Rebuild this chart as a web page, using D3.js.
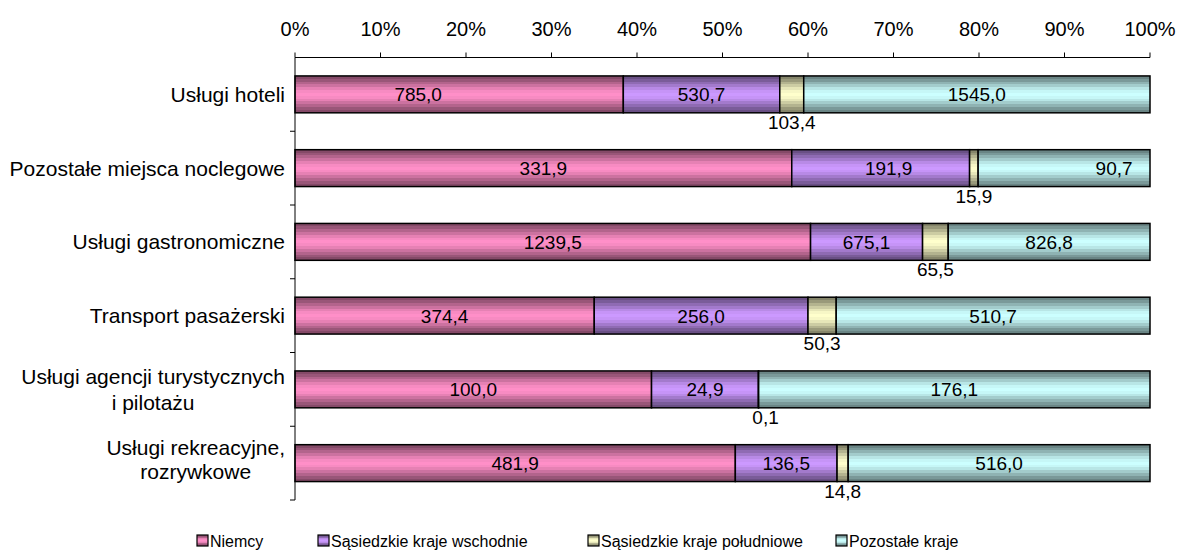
<!DOCTYPE html>
<html>
<head>
<meta charset="utf-8">
<script src="https://cdn.jsdelivr.net/npm/d3@7"></script>
<style>
  body { margin: 0; background: #fff; }
  text { font-family: "Liberation Sans", Arial, sans-serif; fill: #000; }
</style>
</head>
<body>
<svg id="chart" width="1180" height="551"></svg>
<script>
// categories (top to bottom), each label split into lines
const categories = [
    ["Usługi hoteli"],
    ["Pozostałe miejsca noclegowe"],
    ["Usługi gastronomiczne"],
    ["Transport pasażerski"],
    ["Usługi agencji turystycznych", "i pilotażu"],
    ["Usługi rekreacyjne,", "rozrywkowe"]
]
const seriesNames = ["Niemcy", "Sąsiedzkie kraje wschodnie", "Sąsiedzkie kraje południowe", "Pozostałe kraje"]

// bar shares in %
const shareNiemcy = [38.4, 58.1, 60.3, 35.0, 41.7, 51.5]
const shareWschod = [18.3, 20.8, 13.1, 25.0, 12.5, 11.9]
const sharePoludnie = [2.8, 1.0, 3.0, 3.3, 0.03, 1.3]
const sharePozostale = [40.5, 20.1, 23.6, 36.7, 45.77, 35.3]

// data labels
const valNiemcy = [785.0, 331.9, 1239.5, 374.4, 100.0, 481.9]
const valWschod = [530.7, 191.9, 675.1, 256.0, 24.9, 136.5]
const valPoludnie = [103.4, 15.9, 65.5, 50.3, 0.1, 14.8]
const valPozostale = [1545.0, 90.7, 826.8, 510.7, 176.1, 516.0]

const xTicks = [0, 10, 20, 30, 40, 50, 60, 70, 80, 90, 100]

const shares = [shareNiemcy, shareWschod, sharePoludnie, sharePozostale]
const values = [valNiemcy, valWschod, valPoludnie, valPozostale]
const baseColors = ["#ff8fc8", "#cc99ff", "#ffffcc", "#ccffff"]

const table = categories.map((c, i) => {
    let row = {idx: i}
    seriesNames.forEach((s, k) => { row[s] = shares[k][i] })
    return row
})

const plotLeft = 295, plotRight = 1150, plotTop = 57.5, plotBottom = 500

const svg = d3.select('#chart')
const x = d3.scaleLinear().domain([0, 100]).range([plotLeft, plotRight])
const y = d3.scaleBand().domain(d3.range(categories.length)).range([plotTop, plotBottom])
    .paddingInner(0.5).paddingOuter(0.25)

const fmt = d3.formatLocale({decimal: ",", thousands: " ", grouping: [3], currency: ["", ""]}).format(".1f")

// gradients, dark at top and bottom, light in the middle
const defs = svg.append("defs")
const bands = [0.52, 0.6, 0.7, 0.8, 0.9, 0.97, 1, 0.97, 0.9, 0.8, 0.7, 0.6, 0.52]
baseColors.forEach((c, k) => {
    const g = defs.append("linearGradient").attr("id", "grad" + k)
        .attr("x1", 0).attr("y1", 0).attr("x2", 0).attr("y2", 1)
    const n = bands.length
    bands.forEach((f, j) => {
        const col = d3.interpolateRgb("#000", c)(f)
        g.append("stop").attr("offset", (j / n)).attr("stop-color", col)
        g.append("stop").attr("offset", ((j + 1) / n)).attr("stop-color", col)
    })
})

const stacked = d3.stack().keys(seriesNames)(table)

// bars
stacked.forEach((layer, k) => {
    svg.append("g").selectAll("rect")
        .data(layer)
        .enter().append("rect")
        .attr("x", d => x(d[0]))
        .attr("y", d => y(d.data.idx))
        .attr("width", d => x(d[1]) - x(d[0]))
        .attr("height", y.bandwidth())
        .attr("fill", "url(#grad" + k + ")")
        .attr("stroke", "#000")
        .attr("stroke-width", 1.5)
})

// axes
const topAxis = svg.append("g")
topAxis.append("line").attr("x1", plotLeft).attr("x2", plotRight).attr("y1", plotTop).attr("y2", plotTop)
    .attr("stroke", "#000")
xTicks.forEach(t => {
    topAxis.append("line").attr("x1", x(t)).attr("x2", x(t)).attr("y1", plotTop - 5).attr("y2", plotTop)
        .attr("stroke", "#000")
    topAxis.append("text").attr("x", x(t)).attr("y", 36).attr("text-anchor", "middle")
        .attr("font-size", 20).text(t + "%")
})

const leftAxis = svg.append("g")
leftAxis.append("line").attr("x1", plotLeft).attr("x2", plotLeft).attr("y1", plotTop).attr("y2", plotBottom)
    .attr("stroke", "#000")
d3.range(1, categories.length + 1).forEach(i => {
    const yy = plotTop + i * y.step()
    leftAxis.append("line").attr("x1", plotLeft - 5).attr("x2", plotLeft).attr("y1", yy).attr("y2", yy)
        .attr("stroke", "#000")
})

// category labels (multi-line ones centred as a block, right edge at 285)
const catSize = 21
categories.forEach((lines, i) => {
    const cy = y(i) + y.bandwidth() / 2
    if (lines.length === 1) {
        svg.append("text").attr("font-size", catSize).attr("text-anchor", "end")
            .attr("x", 285).attr("y", cy + 7.5).text(lines[0])
        return
    }
    const gap = i === 4 ? 26 : 24
    const g = svg.append("g")
    const items = lines.map(l => g.append("text").attr("font-size", catSize).attr("text-anchor", "middle").text(l))
    const w = d3.max(items, t => t.node().getComputedTextLength())
    const y0 = cy + 7.5 - gap * (lines.length - 1) / 2 - (i === 5 ? 4 : 0)
    items.forEach((t, j) => t.attr("x", 285 - w / 2).attr("y", y0 + j * gap))
})

// value labels
const shift = {"0-0": -41, "1-1": 8, "1-3": 50}
stacked.forEach((layer, k) => {
    layer.forEach((d, i) => {
        const cx = (x(d[0]) + x(d[1])) / 2 + (shift[i + "-" + k] || 0)
        const by = y(i)
        let yy = by + y.bandwidth() / 2 + 7
        let xx = cx
        if (k === 2) {
            yy = by + y.bandwidth() + 16
            if (i === 4) xx = cx + 7
        }
        svg.append("text").attr("x", xx).attr("y", yy).attr("text-anchor", "middle")
            .attr("font-size", 19).text(fmt(values[k][i]))
    })
})

// legend
const legendX = [197, 318, 588, 836]
const legend = svg.append("g")
seriesNames.forEach((s, k) => {
    legend.append("rect").attr("x", legendX[k]).attr("y", 535).attr("width", 11).attr("height", 11)
        .attr("fill", "url(#grad" + k + ")").attr("stroke", "#000").attr("stroke-width", 1.2)
    legend.append("text").attr("x", legendX[k] + 13).attr("y", 547).attr("font-size", 16).text(s)
})
</script>
</body>
</html>
